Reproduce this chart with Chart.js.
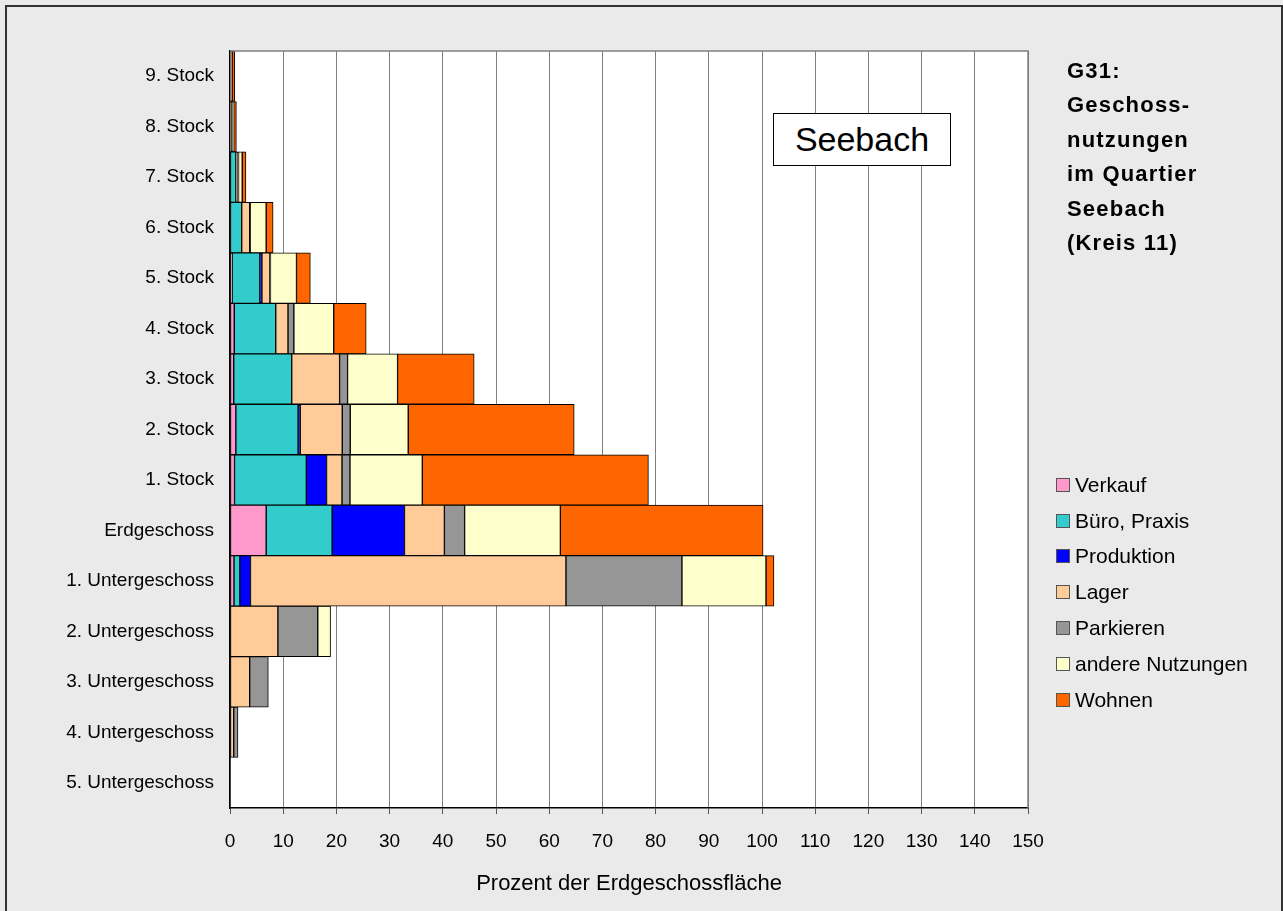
<!DOCTYPE html>
<html>
<head>
<meta charset="utf-8">
<script src="https://cdn.jsdelivr.net/npm/chart.js@4/dist/chart.umd.min.js"></script>
<style>
  body { margin: 0; background: #eaeaea; font-family: "Liberation Sans", Arial, sans-serif; }
  #wrap { position: relative; width: 1283px; height: 911px; overflow: hidden; }
  #frame { position: absolute; left: 5px; top: 5px; width: 1274px; height: 920px; border: 2px solid #333; }
  canvas { position: absolute; left: 0; top: 0; }
  #title { position: absolute; left: 1067px; top: 54px; font-weight: bold; font-size: 22px; line-height: 34.4px; letter-spacing: 1.2px; color: #000; }
  #tag { position: absolute; left: 773px; top: 113px; width: 176px; height: 51px; background: #fff; border: 1.5px solid #000; font-size: 34px; line-height: 51px; text-align: center; }
  #legend { position: absolute; left: 1056px; top: 467px; font-size: 21px; }
  .item { height: 35.8px; display: flex; align-items: center; }
  .box { width: 12px; height: 12px; border: 1px solid #555; margin-right: 5px; }
</style>
</head>
<body>
<div id="wrap">
  <div id="frame"></div>
  <canvas id="chart" width="1283" height="911"></canvas>
  <div id="title">G31:<br>Geschoss-<br>nutzungen<br>im Quartier<br>Seebach<br>(Kreis 11)</div>
  <div id="tag">Seebach</div>
  <div id="legend"></div>
</div>
<script>
// Geschosse, von oben nach unten
const floors = [
  "9. Stock", "8. Stock", "7. Stock", "6. Stock", "5. Stock", "4. Stock",
  "3. Stock", "2. Stock", "1. Stock", "Erdgeschoss",
  "1. Untergeschoss", "2. Untergeschoss", "3. Untergeschoss",
  "4. Untergeschoss", "5. Untergeschoss"
];

const uses = ["Verkauf", "Büro, Praxis", "Produktion", "Lager", "Parkieren", "andere Nutzungen", "Wohnen"];
const useColors = ["#ff99cc", "#33cccc", "#0000ff", "#ffcc99", "#969696", "#ffffcc", "#ff6600"];

// Prozent der Erdgeschossfläche
const verkauf    = [0,   0,   0,   0,   0.4, 0.8, 0.7,  1.1,  0.85, 6.8,  0.75, 0,   0,   0,   0];
const buero      = [0,   0,   1.1, 2.2, 5.2, 7.8, 10.9, 11.7, 13.5, 12.4, 1.1,  0,   0,   0,   0];
const produktion = [0,   0,   0,   0,   0.4, 0,   0,    0.4,  3.8,  13.6, 2.0,  0,   0,   0,   0];
const lager      = [0.2, 0.2, 0.4, 1.5, 1.5, 2.3, 9.0,  7.9,  2.9,  7.5,  59.3, 9.0, 3.7, 0.7, 0];
const parkieren  = [0.2, 0.4, 0.1, 0.1, 0.1, 1.1, 1.5,  1.5,  1.5,  3.8,  21.8, 7.5, 3.5, 0.8, 0];
const andere     = [0,   0.1, 0.7, 3.0, 4.9, 7.5, 9.4,  10.9, 13.6, 18.0, 15.8, 2.4, 0,   0,   0];
const wohnen     = [0.5, 0.5, 0.7, 1.3, 2.6, 6.1, 14.4, 31.2, 42.5, 38.1, 1.5,  0,   0,   0,   0];

const series = [verkauf, buero, produktion, lager, parkieren, andere, wohnen];

const FONT = "'Liberation Sans', Arial, sans-serif";

// white plot area with grey top/right edge
const plotFrame = {
  id: "plotFrame",
  beforeDraw: (chart) => {
    const a = chart.chartArea, ctx = chart.ctx;
    ctx.save();
    ctx.fillStyle = "#ffffff";
    ctx.fillRect(a.left, a.top, a.right - a.left, a.bottom - a.top);
    ctx.restore();
  },
  afterDraw: (chart) => {
    const a = chart.chartArea, ctx = chart.ctx;
    ctx.save();
    ctx.strokeStyle = "#808080";
    ctx.lineWidth = 1.5;
    ctx.beginPath();
    ctx.moveTo(a.left, a.top);
    ctx.lineTo(a.right, a.top);
    ctx.lineTo(a.right, a.bottom);
    ctx.stroke();
    ctx.restore();
  },
};

new Chart(document.getElementById("chart").getContext("2d"), {
  type: "bar",
  data: {
    labels: floors,
    datasets: uses.map((name, i) => ({
      label: name,
      data: series[i],
      backgroundColor: useColors[i],
      borderColor: "#000000",
      borderWidth: 1,
      borderSkipped: false,
      barPercentage: 1,
      categoryPercentage: 1,
    })),
  },
  options: {
    indexAxis: "y",
    responsive: false,
    animation: false,
    layout: { padding: { left: 0, top: 51, right: 255, bottom: 0 } },
    plugins: {
      legend: { display: false },
      tooltip: { enabled: false },
    },
    scales: {
      x: {
        stacked: true,
        min: 0,
        max: 150,
        ticks: { stepSize: 10, color: "#000", padding: 16, font: { family: FONT, size: 19 } },
        grid: { color: "#808080", lineWidth: 1, tickLength: 6, tickColor: "#555" },
        border: { color: "#000", width: 1.5 },
        title: {
          display: true,
          text: "Prozent der Erdgeschossfläche",
          color: "#000",
          font: { family: FONT, size: 22 },
          padding: { top: 0, bottom: 14 },
        },
        afterFit: (scale) => { scale.height = 103; },
      },
      y: {
        stacked: true,
        ticks: { color: "#000", padding: 16, font: { family: FONT, size: 19 } },
        grid: { display: false, drawTicks: false },
        border: { color: "#000", width: 1.5 },
        afterFit: (scale) => { scale.width = 230; },
      },
    },
  },
  plugins: [plotFrame],
});

// legend beside the plot
const legendEl = document.getElementById("legend");
uses.forEach((name, i) => {
  const row = document.createElement("div");
  row.className = "item";
  row.innerHTML = '<span class="box" style="background:' + useColors[i] + '"></span><span>' + name + "</span>";
  legendEl.appendChild(row);
});
</script>
</body>
</html>
